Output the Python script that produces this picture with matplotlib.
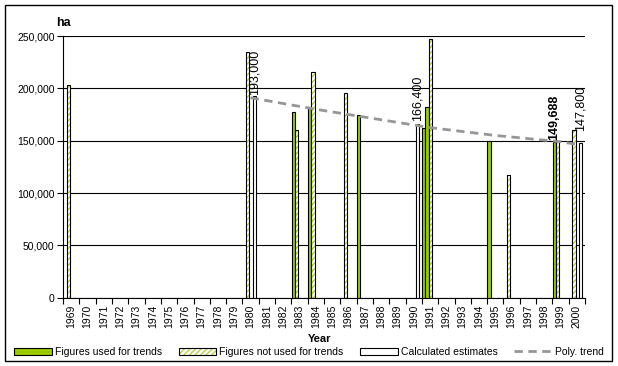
import numpy as np
import matplotlib
matplotlib.use('Agg')
import matplotlib.pyplot as plt
from matplotlib.patches import Patch, Rectangle
from matplotlib.lines import Line2D
from matplotlib.legend_handler import HandlerTuple
from matplotlib.ticker import FuncFormatter

# data
years = list(range(1969, 2001))

used_years = [1983, 1984, 1987, 1991, 1995, 1999]
used_vals = [177000, 182000, 174800, 162000, 150000, 148500]
used_b_years = [1991]
used_b_vals = [182000]

notused_years = [1969, 1980, 1983, 1984, 1986, 1996, 1999, 2000]
notused_vals = [203000, 234400, 160000, 215600, 195300, 117000, 149688, 160000]
notused_b_years = [1991]
notused_b_vals = [247000]

est_years = [1980, 1990, 2000]
est_vals = [193000, 166400, 147800]

trend_years = [1980, 1984, 1987, 1991, 1995, 1999, 2000]
trend_vals = [191000, 180000, 172500, 162500, 155000, 149000, 146500]

label_years = [1980, 1990, 1999, 2000]
label_vals = [193000, 166400, 149688, 147800]
label_bold = [False, False, True, False]

GREEN = '#99CC00'
HATCH = '#B5CC33'
TREND = '#969696'
W = 0.2

plt.rcParams['font.family'] = ['Liberation Sans', 'DejaVu Sans']
plt.rcParams['hatch.linewidth'] = 0.9

fig = plt.figure(figsize=(6.18, 3.66), dpi=100)
ax = fig.add_axes([63 / 618, 1 - 297.7 / 366, (585 - 63) / 618, (297.7 - 36) / 366])


def xs(yrs, off):
    return [y - 1969 + off for y in yrs]


def hatched(yrs, vals, off):
    ax.bar(xs(yrs, off), vals, width=W, color='white', edgecolor=HATCH,
           hatch='//////', linewidth=0, zorder=2)
    ax.bar(xs(yrs, off), vals, width=W, fill=False, edgecolor='black',
           linewidth=0.8, zorder=3)


ax.bar(xs(used_years, -0.38), used_vals, width=W, color=GREEN,
       edgecolor='black', linewidth=0.8, zorder=3)
ax.bar(xs(used_b_years, -0.18), used_b_vals, width=W, color=GREEN,
       edgecolor='black', linewidth=0.8, zorder=3)
hatched(notused_years, notused_vals, -0.18)
hatched(notused_b_years, notused_b_vals, 0.02)
ax.bar(xs(est_years, 0.22), est_vals, width=W, color='white',
       edgecolor='black', linewidth=0.8, zorder=3)

ax.plot(xs(trend_years, 0), trend_vals, color=TREND, lw=2, ls=(0, (3, 2)),
        zorder=4)

label_off = [0.25, 0.22, -0.38, 0.22]
label_pad = [1, 3, 1, 12]
for yr, v, b, o, p in zip(label_years, label_vals, label_bold, label_off, label_pad):
    ax.annotate(f'{v:,}', (yr - 1969 + o, v), xytext=(0, p),
                textcoords='offset pixels', rotation=90, ha='center',
                va='bottom', fontsize=9,
                fontweight='bold' if b else 'normal', zorder=5)

ax.set_xlim(-0.5, 31.5)
ax.set_ylim(0, 250000)
ax.set_yticks(range(0, 250001, 50000))
ax.yaxis.set_major_formatter(FuncFormatter(lambda v, p: f'{int(v):,}'))
ax.grid(axis='y', color='black', lw=0.8)
ax.set_axisbelow(True)

ax.set_xticks(range(len(years)))
ax.set_xticklabels([str(y) for y in years], rotation=90)
ax.set_xticks(np.arange(-0.5, 32, 1), minor=True)
ax.tick_params(axis='x', which='major', length=0, pad=5, labelsize=7.5)
ax.tick_params(axis='x', which='minor', length=4, width=0.8)
ax.tick_params(axis='y', length=4, width=0.8, labelsize=7.5, pad=2)

for s in ['top', 'right']:
    ax.spines[s].set_visible(False)
for s in ['left', 'bottom']:
    ax.spines[s].set_linewidth(0.8)

fig.text(56 / 618, 1 - 23 / 366, 'ha', fontsize=9, fontweight='bold',
         ha='left', va='center')
fig.text(320 / 618, 1 - 339 / 366, 'Year', fontsize=8, fontweight='bold',
         ha='center', va='center')

fig.patches.append(Rectangle((5 / 618, 1 - 361 / 366), 607 / 618, 356 / 366,
                             transform=fig.transFigure, fill=False,
                             edgecolor='black', lw=1))

h_used = Patch(facecolor=GREEN, edgecolor='black', lw=0.8)
h_not = (Patch(facecolor='white', edgecolor=HATCH, hatch='//////', lw=0),
         Patch(fill=False, edgecolor='black', lw=0.8))
h_est = Patch(facecolor='white', edgecolor='black', lw=0.8)
h_trend = Line2D([], [], color=TREND, lw=2, ls=(0, (3, 2)))
fig.legend([h_used, h_not, h_est, h_trend],
           ['Figures used for trends', 'Figures not used for trends',
            'Calculated estimates', 'Poly. trend'],
           loc='center', bbox_to_anchor=(0.5, 1 - 352 / 366), ncol=4,
           frameon=False, fontsize=7.5, handlelength=3.6, handleheight=0.7,
           handletextpad=0.3, columnspacing=1.6,
           handler_map={tuple: HandlerTuple(ndivide=1)})

fig.savefig('out.png', dpi=100)
